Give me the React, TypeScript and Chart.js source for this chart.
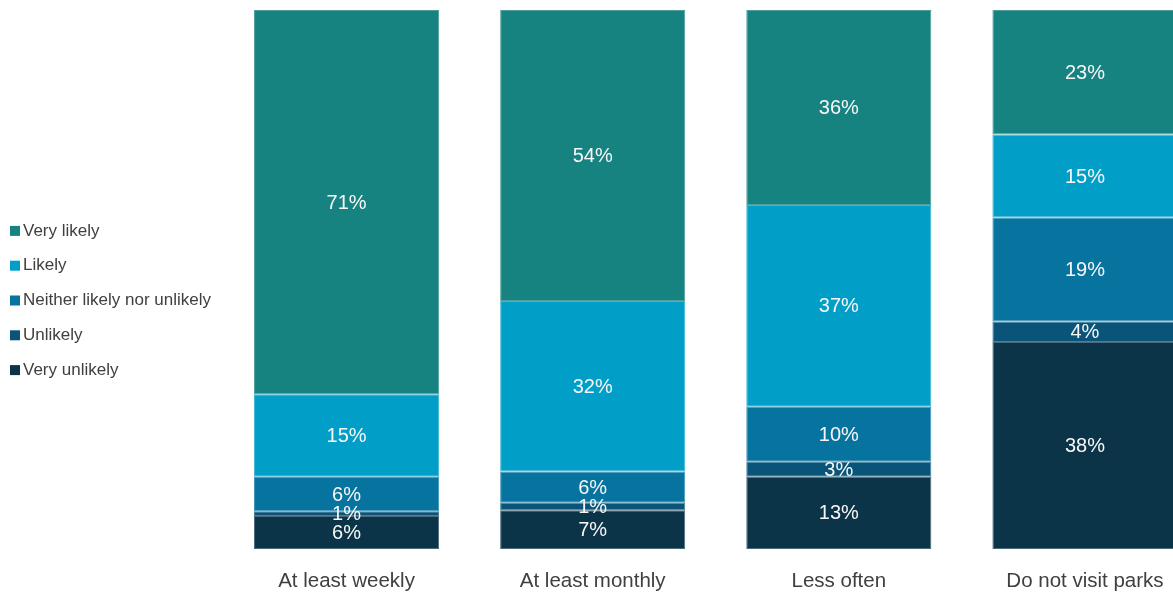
import React, { useEffect, useRef } from "react";
import { Chart, registerables } from "chart.js";

Chart.register(...registerables);

const categories = ["At least weekly", "At least monthly", "Less often", "Do not visit parks"];
const seriesNames = ["Very likely", "Likely", "Neither likely nor unlikely", "Unlikely", "Very unlikely"];
const seriesColors = ["#168380", "#019FC8", "#07739F", "#0A5479", "#0B3448"];
const seriesBorders = ["#4f9f9d", "#40b5d4", "#4295b8", "#47819d", "#4a6a79"];

const veryUnlikely = [6.1, 7.2, 13.4, 38.4];
const unlikely = [0.9, 1.4, 2.8, 3.8];
const neither = [6.4, 5.8, 10.2, 19.3];
const likely = [15.3, 31.6, 37.4, 15.4];
const veryLikely = [71.3, 54.0, 36.2, 23.1];

const FONT = "'Liberation Sans', Arial, sans-serif";

const valueLabels = {
  id: "valueLabels",
  afterDatasetsDraw(chart: any) {
    const ctx = chart.ctx;
    ctx.save();
    ctx.fillStyle = "#f7f7f7";
    ctx.font = `20px ${FONT}`;
    ctx.textAlign = "center";
    ctx.textBaseline = "middle";
    chart.data.datasets.forEach((ds: any, di: number) => {
      const meta = chart.getDatasetMeta(di);
      meta.data.forEach((el: any, i: number) => {
        const v = ds.data[i];
        const y = (el.y + el.base) / 2;
        ctx.fillText(Math.round(v) + "%", el.x, y + 1);
      });
    });
    ctx.restore();
  },
};

const sideLegend = {
  id: "sideLegend",
  afterDraw(chart: any) {
    const ctx = chart.ctx;
    ctx.save();
    ctx.font = `17px ${FONT}`;
    ctx.textBaseline = "middle";
    ctx.textAlign = "left";
    const n = seriesNames.length;
    const spacing = 34.8;
    const cy = 300.5;
    seriesNames.forEach((name, i) => {
      const y = cy + (i - (n - 1) / 2) * spacing;
      ctx.fillStyle = seriesColors[i];
      ctx.fillRect(10, y - 5, 10, 10);
      ctx.fillStyle = "#404040";
      ctx.fillText(name, 23, y);
    });
    ctx.restore();
  },
};

export default function App() {
  const ref = useRef<HTMLCanvasElement>(null);
  useEffect(() => {
    if (!ref.current) return;
    const stackOrder = [veryUnlikely, unlikely, neither, likely, veryLikely];
    const stackNames = [...seriesNames].reverse();
    const stackColors = [...seriesColors].reverse();
    const stackBorders = [...seriesBorders].reverse();
    const chart = new Chart(ref.current, {
      type: "bar",
      data: {
        labels: categories,
        datasets: stackOrder.map((d, i) => ({
          label: stackNames[i],
          data: d,
          backgroundColor: stackColors[i],
          borderColor: stackBorders[i],
          borderWidth: 1,
          borderSkipped: false,
          categoryPercentage: 1,
          barPercentage: 0.752,
        })),
      },
      options: {
        responsive: false,
        animation: false,
        layout: { padding: { left: 223.5, right: 0, top: 10, bottom: 0 } },
        plugins: { legend: { display: false }, tooltip: { enabled: false } },
        scales: {
          x: {
            stacked: true,
            grid: { display: false },
            border: { display: false },
            ticks: { color: "#404040", font: { family: FONT, size: 20.5 }, padding: 12 },
            afterFit(scale: any) {
              scale.height = 46;
            },
          },
          y: {
            stacked: true,
            display: false,
            min: 0,
            max: 100,
          },
        },
      },
      plugins: [valueLabels, sideLegend],
    });
    return () => chart.destroy();
  }, []);
  return (
    <div style={{ position: "fixed", left: 0, top: 0, width: 1173, height: 595, overflow: "hidden", background: "#fff" }}>
      <canvas ref={ref} width={1208} height={595} style={{ width: 1208, height: 595, display: "block" }} />
    </div>
  );
}
